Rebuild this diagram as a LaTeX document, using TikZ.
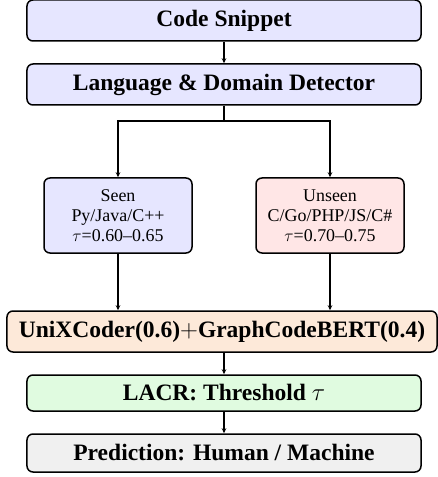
\documentclass[tikz,border=0pt]{standalone}
\usepackage{fontspec}
\setmainfont{Liberation Serif}
\usetikzlibrary{arrows.meta}
\definecolor{cblue}{HTML}{E6E6FF}
\definecolor{cred}{HTML}{FFE6E6}
\definecolor{corange}{HTML}{FDE9D9}
\definecolor{cgreen}{HTML}{E0FBE0}
\definecolor{cgray}{HTML}{F0F0F0}
\tikzset{
  box/.style={draw=black, line width=1.5bp, rounded corners=6bp, inner sep=0pt, align=center},
  bigbox/.style={box, minimum width=394bp, font=\fontsize{23.6}{28}\selectfont\bfseries},
  smallbox/.style={box, minimum width=148bp, minimum height=75bp, font=\fontsize{18}{20}\selectfont},
  conn/.style={line width=1.1bp, -{Stealth[length=5bp,width=4.5bp]}},
  plain/.style={line width=1.1bp}
}
\begin{document}
\begin{tikzpicture}[x=1bp,y=-1bp]
\useasboundingbox (0,0) rectangle (438,477);
\node[bigbox, fill=cblue, minimum height=41bp] (code) at (224,20.5) {Code Snippet};
\node[bigbox, fill=cblue, minimum height=41bp] (det) at (224,84.5) {Language \& Domain Detector};
\node[smallbox, fill=cblue] (seen) at (118,215.5) {Seen\\Py/Java/C++\\$\tau$=0.60--0.65};
\node[smallbox, fill=cred] (unseen) at (330,215.5) {Unseen\\C/Go/PHP/JS/C\#\\$\tau$=0.70--0.75};
\node[bigbox, fill=corange, minimum width=430bp, minimum height=41bp] (ens) at (222,331.5) {UniXCoder(0.6)$+$GraphCodeBERT(0.4)};
\node[bigbox, fill=cgreen, minimum height=36bp] (lacr) at (224,393) {LACR: Threshold $\tau$};
\node[bigbox, fill=cgray, minimum height=38bp] (pred) at (224,453) {Prediction: Human / Machine};
\coordinate (split) at (224,121);
\draw[conn] (code) -- (det);
\draw[plain] (det.south) -- (split);
\draw[conn] (split) -| (seen.north);
\draw[conn] (split) -| (unseen.north);
\draw[conn] (seen.south) -- (seen.south |- ens.north);
\draw[conn] (unseen.south) -- (unseen.south |- ens.north);
\draw[conn] (ens.south -| lacr.north) -- (lacr.north);
\draw[conn] (lacr) -- (pred);
\end{tikzpicture}
\end{document}
